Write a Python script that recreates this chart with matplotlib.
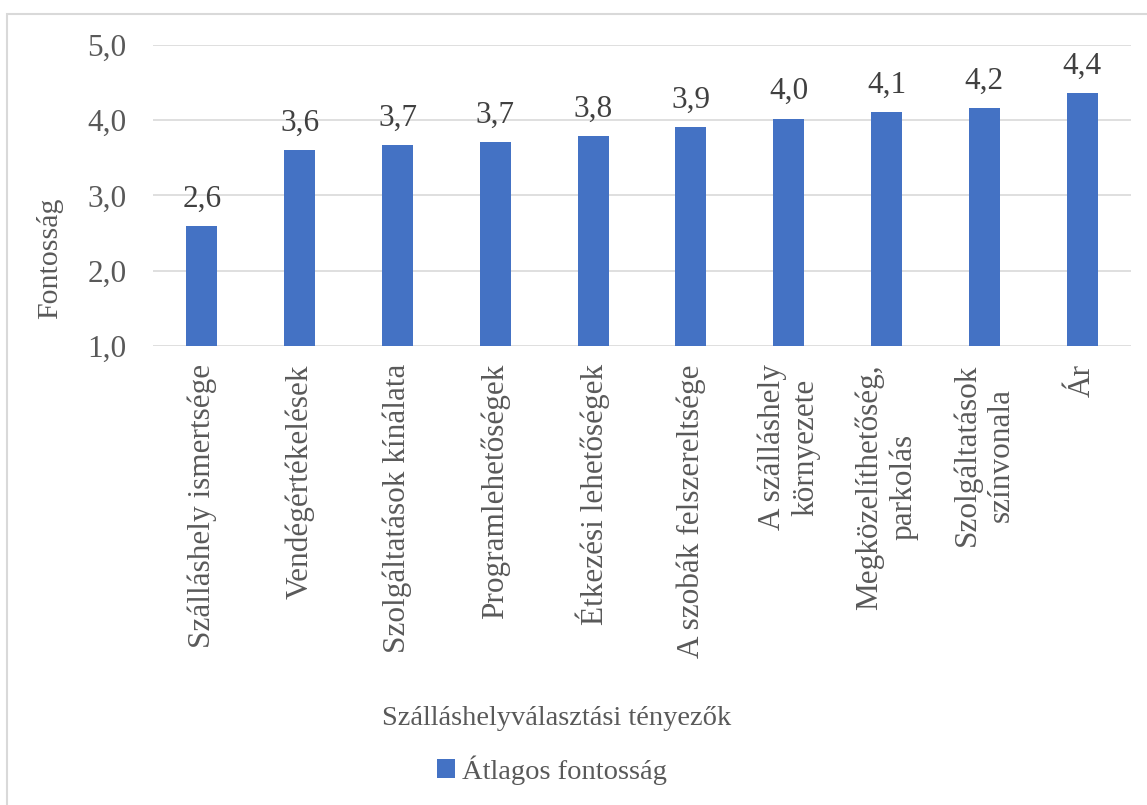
import matplotlib.pyplot as plt
from matplotlib.patches import Rectangle
from matplotlib.ticker import FuncFormatter

plt.rcParams['font.family'] = ['Liberation Serif', 'DejaVu Serif']

# data
factors = ['Szálláshely ismertsége', 'Vendégértékelések', 'Szolgáltatások kínálata',
           'Programlehetőségek', 'Étkezési lehetőségek', 'A szobák felszereltsége',
           'A szálláshely\nkörnyezete', 'Megközelíthetőség,\nparkolás',
           'Szolgáltatások\nszínvonala', 'Ár']
importance = [2.59, 3.60, 3.67, 3.71, 3.79, 3.91, 4.02, 4.11, 4.16, 4.36]
series_name = 'Átlagos fontosság'

bar_color = '#4472C4'
grid_color = '#D9D9D9'
text_color = '#595959'
fs = 22.5      # tick and data labels
fs_title = 20.5  # axis titles, legend

W, H = 1147, 805
fig = plt.figure(figsize=(W / 100, H / 100), dpi=100)
ax = fig.add_axes([153 / W, 1 - 346 / H, (1131 - 153) / W, (346 - 45) / H])

# chart frame like the Excel chart area
fig.patches.append(Rectangle((7 / W, -0.1), 1.2, 1 - 14 / H + 0.1, transform=fig.transFigure,
                             fill=False, edgecolor=grid_color, linewidth=1.5))

x = range(len(factors))
bars = ax.bar(x, importance, width=0.315, color=bar_color, label=series_name, zorder=3)
for xi, v in zip(x, importance):
  ax.annotate(f'{v:.1f}'.replace('.', ','), (xi, v), xytext=(0, 9), textcoords='offset points',
              ha='center', va='bottom', fontsize=fs, color='#404040')

ax.set_xlim(-0.5, len(factors) - 0.5)
ax.set_ylim(1, 5)
ax.set_yticks([1, 2, 3, 4, 5])
ax.yaxis.set_major_formatter(FuncFormatter(lambda v, p: f'{v:.1f}'.replace('.', ',')))
ax.grid(axis='y', color=grid_color, linewidth=1.2, zorder=0)
for s in ax.spines.values():
  s.set_visible(False)
ax.tick_params(axis='both', length=0, labelsize=fs, colors=text_color)
ax.tick_params(axis='y', pad=19)
ax.tick_params(axis='x', pad=13)
ax.set_xticks(list(x))
ax.set_xticklabels(factors, rotation=90, ha='center', va='top', multialignment='center')

fig.text(50 / W, 1 - 258 / H, 'Fontosság', rotation=90, ha='center', va='center',
         fontsize=21.5, color=text_color)
fig.text(557 / W, 1 - 718 / H, 'Szálláshelyválasztási tényezők', ha='center', va='center',
         fontsize=fs_title, color=text_color)

leg = fig.legend(loc='center', bbox_to_anchor=(552 / W, 1 - 770 / H), frameon=False,
                 fontsize=fs_title, handlelength=0.65, handleheight=0.65, handletextpad=0.25)
for t in leg.get_texts():
  t.set_color(text_color)

fig.savefig('out.png', dpi=100)
